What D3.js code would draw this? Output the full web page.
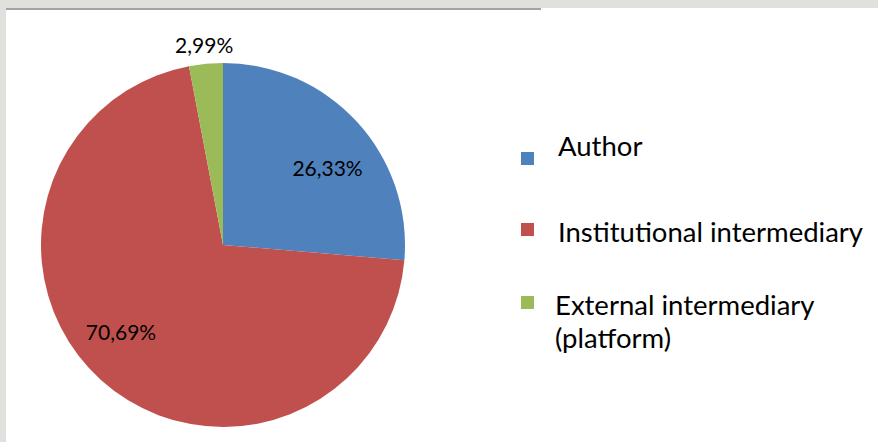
<!DOCTYPE html>
<html>
<head>
<meta charset="utf-8">
<script src="https://cdn.jsdelivr.net/npm/d3@7"></script>
<style>
  html, body { margin: 0; padding: 0; background: #e0e0dc; }
  svg { display: block; }
</style>
</head>
<body>
<div id="chart"></div>
<script>
var svgWidth = 878;
var svgHeight = 442;

// data
var categories = ["Author", "Institutional intermediary", "External intermediary (platform)"];
var values = [26.33, 70.69, 2.99];
var valueLabels = ["26,33%", "70,69%", "2,99%"];
var colors = ["#4f81bd", "#c0504d", "#9bbb59"];
var legendLines = [["Author"], ["Institutional intermediary"], ["External intermediary", "(platform)"]];

var svg = d3.select("#chart")
  .append("svg")
  .attr("width", svgWidth)
  .attr("height", svgHeight);

// page background + white slide area
svg.append("rect")
  .attr("width", svgWidth)
  .attr("height", svgHeight)
  .attr("fill", "#e0e0dc");

svg.append("rect")
  .attr("x", 6)
  .attr("y", 8)
  .attr("width", svgWidth - 6)
  .attr("height", svgHeight - 8)
  .attr("fill", "#ffffff");

svg.append("line")
  .attr("x1", 6)
  .attr("x2", 541)
  .attr("y1", 9)
  .attr("y2", 9)
  .attr("stroke", "#a3a3a3")
  .attr("stroke-width", 2);

// pie
var cx = 223, cy = 245, radius = 182;

var pie = d3.pie().sort(null).value(d => d);
var arcs = pie(values);
var arc = d3.arc().innerRadius(0).outerRadius(radius);

var pieGroup = svg.append("g")
  .attr("transform", `translate(${cx}, ${cy})`);

pieGroup.selectAll("path")
  .data(arcs)
  .enter()
  .append("path")
  .attr("d", arc)
  .attr("fill", (d, i) => colors[i]);

// data labels: radius fraction and small angle shift per slice (best-fit like placement)
var labelRadius = [0.711, 0.739, 1.104];
var labelShift = [6.5, 7.3, 0];
function labelPos(d, i) {
  var a = (d.startAngle + d.endAngle) / 2 + labelShift[i] * Math.PI / 180;
  return d3.pointRadial(a, radius * labelRadius[i]);
}

pieGroup.selectAll("text.val")
  .data(arcs)
  .enter()
  .append("text")
  .attr("class", "val")
  .attr("x", (d, i) => labelPos(d, i)[0])
  .attr("y", (d, i) => labelPos(d, i)[1])
  .attr("dy", "0.36em")
  .attr("text-anchor", "middle")
  .attr("font-family", "Lato, sans-serif")
  .attr("font-size", "21px")
  .attr("fill", "#000")
  .text((d, i) => valueLabels[i]);

// legend
var swatchY = [152, 223, 296];
var textY = [156, 242, 315];
var legend = svg.append("g");

legend.selectAll("rect")
  .data(categories)
  .enter()
  .append("rect")
  .attr("x", 521)
  .attr("y", (d, i) => swatchY[i])
  .attr("width", 13)
  .attr("height", 13)
  .attr("fill", (d, i) => colors[i]);

legend.selectAll("text")
  .data(categories)
  .enter()
  .append("text")
  .attr("x", (d, i) => i === 2 ? 555 : 558)
  .attr("y", (d, i) => textY[i])
  .attr("font-family", "Lato, sans-serif")
  .attr("font-size", "27.5px")
  .attr("fill", "#000")
  .each(function(d, i) {
    var t = d3.select(this);
    legendLines[i].forEach(function(line, j) {
      t.append("tspan")
        .attr("x", i === 2 ? 555 : 558)
        .attr("dy", j === 0 ? 0 : 33)
        .text(line);
    });
  });
</script>
</body>
</html>
